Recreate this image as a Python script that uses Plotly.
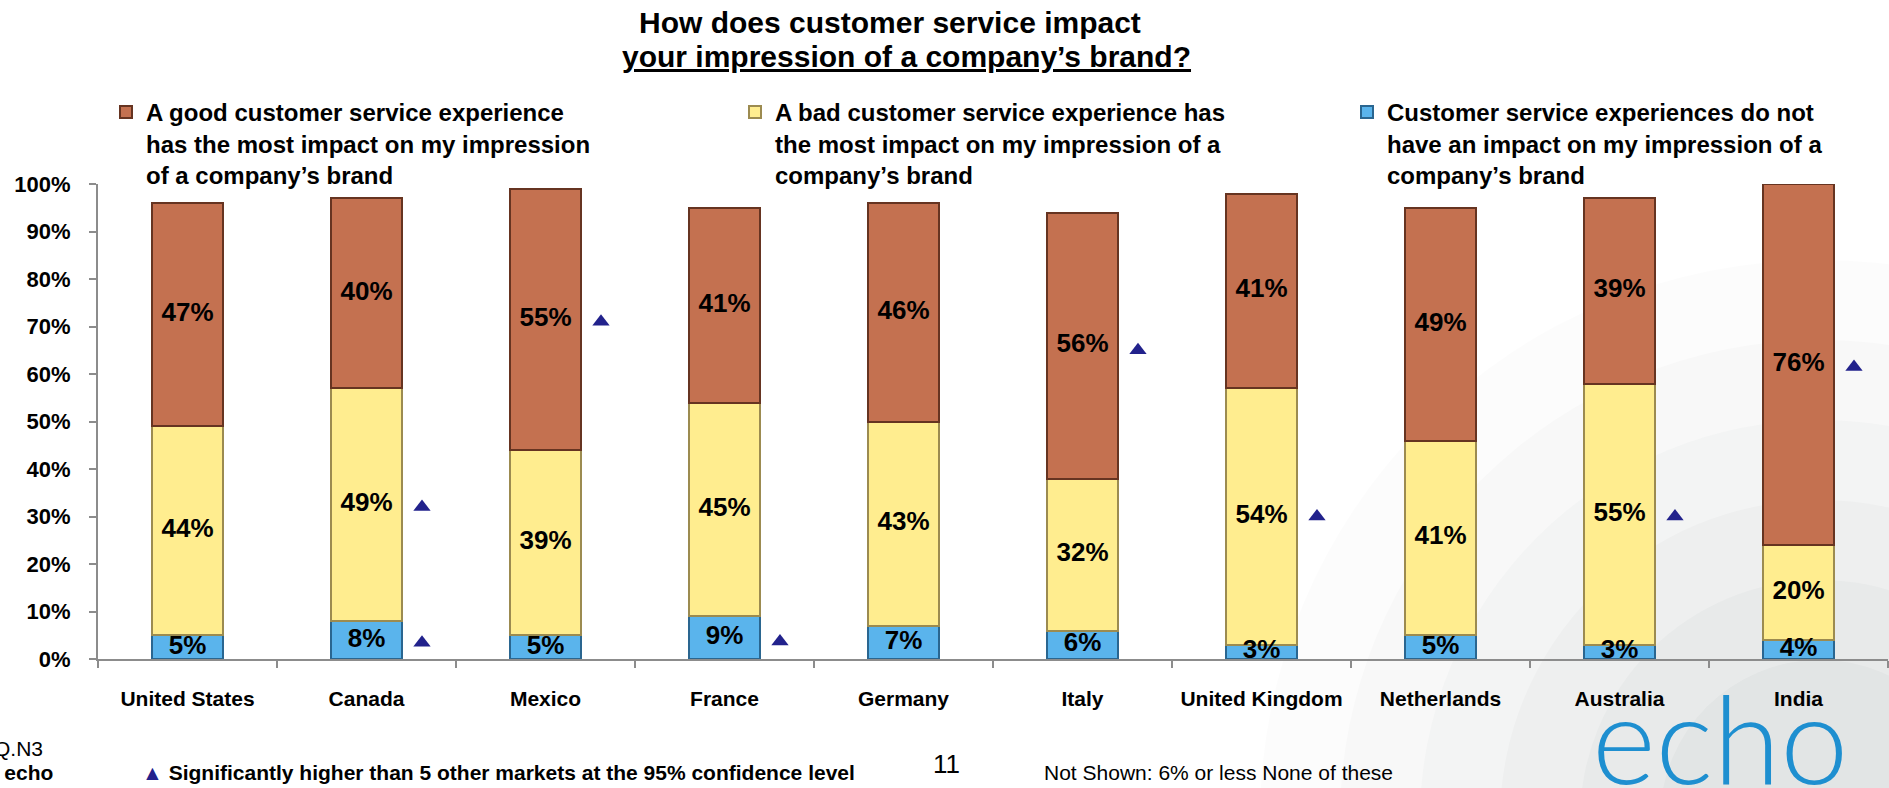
import plotly.graph_objects as go

# ---------------- data ----------------
categories = ["United States", "Canada", "Mexico", "France", "Germany",
              "Italy", "United Kingdom", "Netherlands", "Australia", "India"]
no_impact = [5, 8, 5, 9, 7, 6, 3, 5, 3, 4]
bad_exp = [44, 49, 39, 45, 43, 32, 54, 41, 55, 20]
good_exp = [47, 40, 55, 41, 46, 56, 41, 49, 39, 76]

# significance markers (category index, value position)
sig_index = [1, 1, 2, 3, 5, 6, 8, 9]
sig_value = [32, 3.4, 71, 3.7, 65, 30, 30, 61.5]

yticks = [0, 10, 20, 30, 40, 50, 60, 70, 80, 90, 100]
ytick_text = [f"{v}%" for v in yticks]

series_names = [
    "A good customer service experience<br>has the most impact on my impression<br>of a company\u2019s brand",
    "A bad customer service experience has<br>the most impact on my impression of a<br>company\u2019s brand",
    "Customer service experiences do not<br>have an impact on my impression of a<br>company\u2019s brand",
]

# ---------------- layout constants ----------------
W, H = 1889, 788
ML, MR, MT, MB = 98, 1, 184, 129
PW = W - ML - MR
PH = H - MT - MB
FONT = "Liberation Sans, Arial, Helvetica, sans-serif"


def px_x(px):
    return (px - ML) / PW


def px_y(py):
    return (H - MB - py) / PH


C_GOOD = "#C47150"
C_BAD = "#FFED8F"
C_NO = "#5AB4EC"
C_SIG = "#22228C"

x_idx = list(range(len(categories)))

fig = go.Figure()

bar_common = dict(width=0.40, hoverinfo="skip", textposition="none")

fig.add_trace(go.Bar(x=x_idx, y=no_impact, name=series_names[2], legend="legend3",
                     marker=dict(color=C_NO, line=dict(color="#2A6690", width=2)),
                     **bar_common))
fig.add_trace(go.Bar(x=x_idx, y=bad_exp, name=series_names[1], legend="legend2",
                     marker=dict(color=C_BAD, line=dict(color="#9C8B50", width=2)),
                     **bar_common))
fig.add_trace(go.Bar(x=x_idx, y=good_exp, name=series_names[0], legend="legend",
                     marker=dict(color=C_GOOD, line=dict(color="#663421", width=2)),
                     **bar_common))

# value labels, centred in each stacked segment
label_font = dict(family=FONT, size=26, color="black", weight="bold")
base = [0] * len(categories)
for series in (no_impact, bad_exp, good_exp):
    mids = [b + v / 2 for b, v in zip(base, series)]
    fig.add_trace(go.Scatter(
        x=x_idx, y=mids, mode="text", text=[f"{v}%" for v in series],
        textposition="middle center", textfont=label_font,
        showlegend=False, hoverinfo="skip", cliponaxis=False,
    ))
    base = [b + v for b, v in zip(base, series)]

fig.add_trace(go.Scatter(
    x=[i + 0.31 for i in sig_index], y=sig_value, mode="markers",
    marker=dict(symbol="triangle-up", size=15, color=C_SIG),
    showlegend=False, hoverinfo="skip", cliponaxis=False,
))

# decorative soft gray background in lower-right corner
shapes = []
cx, cy = 1820, 820
for r, op in [(560, 0.025), (480, 0.03), (400, 0.035), (320, 0.04), (240, 0.045), (160, 0.05)]:
    shapes.append(dict(
        type="circle", xref="paper", yref="paper", layer="below",
        x0=px_x(cx - r), x1=px_x(cx + r), y0=px_y(cy + r), y1=px_y(cy - r),
        fillcolor=f"rgba(120,130,140,{op})", line=dict(width=0),
    ))

annotations = [
    dict(text="<b>How does customer service impact</b>",
         xref="paper", yref="paper", x=px_x(890), y=px_y(22),
         xanchor="center", yanchor="middle", showarrow=False,
         font=dict(family=FONT, size=30, color="black")),
    dict(text="<b><u>your impression of a company\u2019s brand?</u></b>",
         xref="paper", yref="paper", x=px_x(906), y=px_y(56),
         xanchor="center", yanchor="middle", showarrow=False,
         font=dict(family=FONT, size=30, color="black")),
    dict(text="Q.N3", xref="paper", yref="paper", x=px_x(-8), y=px_y(748),
         xanchor="left", yanchor="middle", showarrow=False,
         font=dict(family=FONT, size=21, color="black")),
    dict(text="<b>\u00a9 echo</b>", xref="paper", yref="paper", x=px_x(55), y=px_y(772),
         xanchor="right", yanchor="middle", showarrow=False,
         font=dict(family=FONT, size=21, color="black")),
    dict(text="<span style='color:#22228C'>\u25b2</span> <b>Significantly higher than 5 other markets at the 95% confidence level</b>",
         xref="paper", yref="paper", x=px_x(140), y=px_y(772),
         xanchor="left", yanchor="middle", showarrow=False,
         font=dict(family=FONT, size=21, color="black")),
    dict(text="11", xref="paper", yref="paper", x=px_x(931), y=px_y(764),
         xanchor="left", yanchor="middle", showarrow=False,
         font=dict(family=FONT, size=26, color="black")),
    dict(text="Not Shown: 6% or less None of these", xref="paper", yref="paper",
         x=px_x(1042), y=px_y(772), xanchor="left", yanchor="middle", showarrow=False,
         font=dict(family=FONT, size=21, color="black")),
    dict(text="echo", xref="paper", yref="paper", x=px_x(1720), y=px_y(812),
         xanchor="center", yanchor="bottom", showarrow=False,
         font=dict(family="Lato, Open Sans, sans-serif", size=122, color="#1E8FD0", weight=300)),
]

legend_common = dict(
    orientation="v", xanchor="left", yanchor="top", valign="top",
    font=dict(family=FONT, size=24, color="black", weight="bold"),
    bgcolor="rgba(0,0,0,0)", itemclick=False, itemdoubleclick=False,
)

fig.update_layout(
    width=W, height=H,
    margin=dict(l=ML, r=MR, t=MT, b=MB, pad=0),
    paper_bgcolor="white", plot_bgcolor="rgba(0,0,0,0)",
    barmode="stack",
    font=dict(family=FONT, color="black"),
    legend=dict(x=px_x(106), y=px_y(90), **legend_common),
    legend2=dict(x=px_x(735), y=px_y(90), **legend_common),
    legend3=dict(x=px_x(1347), y=px_y(90), **legend_common),
    xaxis=dict(
        range=[-0.5, len(categories) - 0.5],
        tickmode="array", tickvals=x_idx, ticktext=categories,
        ticks="", showgrid=False, zeroline=False,
        showline=True, linecolor="#8C8C8C", linewidth=2,
        tickfont=dict(family=FONT, size=21, color="black", weight="bold"),
        ticklabelstandoff=20, layer="below traces",
        minor=dict(tickmode="linear", tick0=-0.5, dtick=1, ticks="outside",
                   ticklen=7, tickcolor="#8C8C8C", tickwidth=2, showgrid=False),
        fixedrange=True,
    ),
    yaxis=dict(
        range=[0, 100], tickmode="array", tickvals=yticks, ticktext=ytick_text,
        ticks="outside", ticklen=7, tickwidth=2, tickcolor="#8C8C8C",
        showline=True, linecolor="#8C8C8C", linewidth=2,
        showgrid=False, zeroline=False, layer="below traces",
        tickfont=dict(family=FONT, size=22, color="black", weight="bold"),
        ticklabelstandoff=14,
        fixedrange=True,
    ),
    shapes=shapes,
    annotations=annotations,
)

fig.write_html("out.html", config={"displayModeBar": False})
